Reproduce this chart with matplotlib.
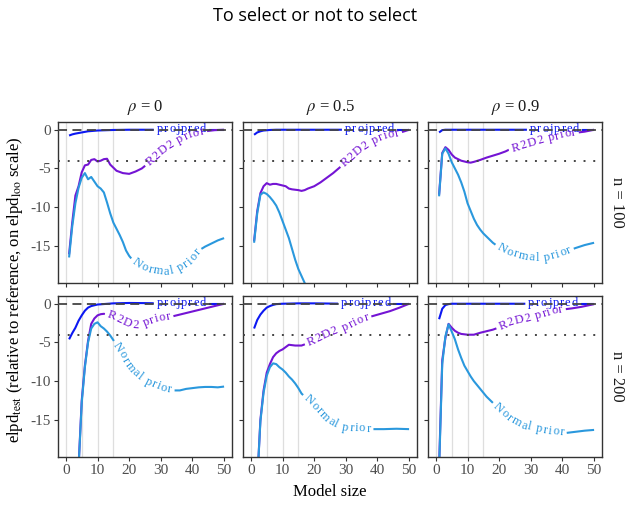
import numpy as np
import matplotlib
matplotlib.use("Agg")
import matplotlib.pyplot as plt
from matplotlib.font_manager import FontProperties

plt.rcParams["font.family"] = ["Liberation Serif", "DejaVu Serif"]
plt.rcParams["mathtext.fontset"] = "stix"
plt.rcParams["axes.unicode_minus"] = False

rhos = ["0", "0.5", "0.9"]
ns = ["100", "200"]
methods = ["projpred", "R2D2 prior", "Normal prior"]
colors = {"projpred": "#0c18f2", "R2D2 prior": "#7414d4", "Normal prior": "#2a98dd"}

# n = 100, rho = 0
proj_100_0_x = [1, 2, 3, 5, 7, 10, 15, 20, 30, 40, 50]
proj_100_0_y = [-0.75, -0.6, -0.5, -0.35, -0.2, -0.1, -0.03, 0, 0, 0, 0]
r2d2_100_0_x = [1, 2, 3, 4, 5, 6, 7, 8, 9, 10, 11, 12, 13, 14, 15, 16, 18, 20, 22, 24, 27, 30, 33, 36, 39, 42, 44, 47, 50]
r2d2_100_0_y = [-16.1, -12.0, -8.5, -7.3, -5.5, -4.6, -4.5, -3.9, -3.8, -4.1, -4.0, -3.8, -3.75, -4.5, -4.9, -5.3, -5.6, -5.7, -5.4, -5.0,
                -4.0, -2.9, -2.0, -1.3, -0.7, -0.35, -0.2, -0.05, 0]
norm_100_0_x = [1, 2, 3, 4, 5, 6, 7, 8, 9, 10, 11, 12, 13, 14, 15, 16, 17, 18, 19, 20, 21, 23, 26, 29, 32, 35, 38, 40, 42, 44, 46, 48, 50]
norm_100_0_y = [-16.5, -12.5, -9.5, -7.5, -6.2, -5.6, -6.4, -6.1, -6.7, -7.3, -7.6, -8.1, -9.4, -10.8, -12.0, -12.8, -13.6, -14.5,
                -15.6, -16.3, -16.8, -17.5, -18.0, -18.3, -18.4, -18.1, -17.4, -16.8, -15.6, -15.1, -14.7, -14.3, -14.0]

# n = 100, rho = 0.5
proj_100_5_x = [1, 2, 3, 4, 6, 8, 50]
proj_100_5_y = [-0.65, -0.35, -0.2, -0.1, -0.03, 0, 0]
r2d2_100_5_x = [1, 2, 3, 4, 5, 6, 7, 8, 9, 10, 11, 12, 13, 14, 15, 16, 17, 18, 20, 22, 24, 26, 28, 31, 34, 37, 40, 43, 45, 47, 50]
r2d2_100_5_y = [-14.4, -10.5, -8.2, -7.3, -6.9, -7.1, -7.0, -7.0, -7.1, -7.2, -7.3, -7.6, -7.7, -7.75, -7.8, -7.9, -7.8, -7.6,
                -7.3, -6.8, -6.2, -5.6, -4.9, -3.8, -2.7, -1.8, -1.2, -0.75, -0.6, -0.4, 0]
norm_100_5_x = [1, 2, 3, 4, 5, 6, 7, 8, 9, 10, 11, 12, 13, 14, 15, 16, 17, 20, 25, 30, 40, 50]
norm_100_5_y = [-14.6, -10.8, -8.4, -8.1, -8.3, -8.7, -9.2, -9.8, -10.7, -11.8, -12.9, -14.0, -15.4, -16.8, -18.0, -18.9, -19.8,
                -23.0, -27.0, -29.0, -30.0, -30.0]

# n = 100, rho = 0.9
proj_100_9_x = [1, 2, 3, 50]
proj_100_9_y = [-0.35, -0.05, 0, 0]
r2d2_100_9_x = [1, 2, 3, 4, 5, 6, 7, 8, 10, 11, 12, 14, 16, 18, 20, 22, 23, 26, 30, 34, 38, 42, 45, 47, 50]
r2d2_100_9_y = [-8.4, -3.0, -2.25, -2.6, -3.2, -3.6, -3.8, -4.0, -4.2, -4.25, -4.15, -3.9, -3.6, -3.35, -3.1, -2.8, -2.6, -2.3,
                -1.8, -1.3, -0.9, -0.5, -0.35, -0.25, 0]
norm_100_9_x = [1, 2, 3, 4, 5, 6, 7, 8, 9, 10, 11, 12, 13, 14, 15, 16, 17, 18, 20, 23, 26, 29, 32, 35, 38, 41, 44, 47, 50]
norm_100_9_y = [-8.6, -3.1, -2.4, -3.1, -4.2, -5.0, -5.8, -6.8, -8.0, -9.5, -10.5, -11.5, -12.3, -12.9, -13.4, -13.8, -14.2,
                -14.6, -15.2, -15.8, -16.2, -16.5, -16.6, -16.5, -16.2, -15.8, -15.3, -14.9, -14.6]

# n = 200, rho = 0
proj_200_0_x = [1, 2, 3, 4, 5, 6, 7, 8, 10, 15, 20, 25, 30, 40, 50]
proj_200_0_y = [-4.6, -3.8, -3.1, -2.2, -1.5, -0.9, -0.5, -0.3, -0.1, 0.05, 0.1, 0.08, 0.05, 0, 0]
r2d2_200_0_x = [1, 2, 3, 4, 5, 6, 7, 8, 9, 10, 11, 12, 14, 16, 18, 20, 22, 24, 26, 28, 30, 33, 36, 39, 42, 45, 48, 50]
r2d2_200_0_y = [-40, -32, -26, -21, -12.5, -8.0, -4.8, -2.6, -1.9, -1.5, -1.35, -1.3, -1.5, -1.85, -2.2, -2.6, -2.85, -2.7,
                -2.35, -2.05, -1.85, -1.7, -1.4, -1.1, -0.8, -0.5, -0.2, 0]
norm_200_0_x = [1, 2, 3, 4, 5, 6, 7, 8, 9, 10, 11, 12, 13, 14, 15, 16, 17, 18, 19, 20, 21, 22, 23, 24, 26, 28, 30, 32, 34, 36,
                38, 40, 42, 44, 46, 48, 50]
norm_200_0_y = [-40, -32, -26, -21.2, -12.8, -8.2, -5.0, -3.2, -2.6, -2.4, -2.9, -3.2, -3.6, -4.1, -4.7, -5.4, -6.0, -6.7, -7.5,
                -8.1, -8.6, -9.0, -9.35, -9.65, -10.1, -10.5, -10.85, -11.1, -11.2, -11.2, -11.0, -10.9, -10.8, -10.75, -10.75,
                -10.8, -10.7]

# n = 200, rho = 0.5
proj_200_5_x = [1, 2, 3, 4, 5, 6, 7, 8, 10, 15, 20, 30, 50]
proj_200_5_y = [-3.2, -2.1, -1.4, -0.9, -0.5, -0.3, -0.15, -0.05, 0, 0.05, 0.05, 0, 0]
r2d2_200_5_x = [1, 2, 3, 4, 5, 6, 7, 8, 9, 10, 11, 12, 13, 14, 15, 16, 17, 18, 20, 22, 24, 26, 28, 30, 32, 34, 36, 38, 41, 44,
                47, 50]
r2d2_200_5_y = [-40, -23, -15.0, -11.2, -8.9, -7.8, -6.9, -6.4, -6.1, -5.9, -5.6, -5.3, -5.35, -5.4, -5.4, -5.4, -5.25, -5.1,
                -4.8, -4.4, -4.0, -3.6, -3.3, -3.0, -2.6, -2.2, -1.85, -1.65, -1.3, -0.95, -0.5, 0]
norm_200_5_x = [1, 2, 3, 4, 5, 6, 7, 8, 9, 10, 11, 12, 13, 14, 15, 16, 17, 18, 20, 22, 24, 26, 28, 30, 32, 35, 38, 42, 46, 50]
norm_200_5_y = [-40, -23, -15.2, -11.5, -9.3, -8.2, -7.7, -7.8, -8.2, -8.5, -8.9, -9.4, -9.8, -10.3, -10.9, -11.6, -12.0, -12.3,
                -13.1, -14.0, -14.9, -15.4, -15.8, -16.0, -16.1, -16.15, -16.2, -16.2, -16.15, -16.2]

# n = 200, rho = 0.9
proj_200_9_x = [1, 2, 3, 4, 5, 50]
proj_200_9_y = [-2.0, -0.65, -0.17, -0.05, 0, 0]
r2d2_200_9_x = [1, 2, 3, 4, 5, 6, 7, 8, 10, 12, 14, 16, 18, 19, 20, 22, 25, 28, 31, 34, 37, 40, 43, 46, 50]
r2d2_200_9_y = [-21, -7.3, -4.4, -2.6, -3.1, -3.5, -3.75, -3.9, -4.0, -4.0, -3.75, -3.55, -3.35, -3.2, -3.05, -2.7, -2.3, -2.0,
                -1.7, -1.35, -0.95, -0.75, -0.6, -0.4, -0.05]
norm_200_9_x = [1, 2, 3, 4, 5, 6, 7, 8, 9, 10, 11, 12, 13, 14, 15, 16, 17, 18, 20, 22, 24, 26, 28, 30, 32, 35, 38, 41, 44, 47, 50]
norm_200_9_y = [-21.5, -7.8, -4.2, -2.65, -3.6, -4.6, -5.9, -7.0, -8.0, -8.7, -9.4, -10.0, -10.5, -11.0, -11.5, -12.0, -12.4,
                -12.8, -13.6, -14.3, -15.0, -15.5, -15.8, -16.0, -16.2, -16.4, -16.55, -16.7, -16.55, -16.4, -16.3]

series = {
    ("100", "0"): [(proj_100_0_x, proj_100_0_y), (r2d2_100_0_x, r2d2_100_0_y), (norm_100_0_x, norm_100_0_y)],
    ("100", "0.5"): [(proj_100_5_x, proj_100_5_y), (r2d2_100_5_x, r2d2_100_5_y), (norm_100_5_x, norm_100_5_y)],
    ("100", "0.9"): [(proj_100_9_x, proj_100_9_y), (r2d2_100_9_x, r2d2_100_9_y), (norm_100_9_x, norm_100_9_y)],
    ("200", "0"): [(proj_200_0_x, proj_200_0_y), (r2d2_200_0_x, r2d2_200_0_y), (norm_200_0_x, norm_200_0_y)],
    ("200", "0.5"): [(proj_200_5_x, proj_200_5_y), (r2d2_200_5_x, r2d2_200_5_y), (norm_200_5_x, norm_200_5_y)],
    ("200", "0.9"): [(proj_200_9_x, proj_200_9_y), (r2d2_200_9_x, r2d2_200_9_y), (norm_200_9_x, norm_200_9_y)],
}

# where along x each label sits on its line (text placement only)
label_at = {
    ("100", "0"): [36.5, 34.0, 32.5],
    ("100", "0.5"): [37.5, 37.0, 31.0],
    ("100", "0.9"): [37.5, 34.0, 31.0],
    ("200", "0"): [36.5, 23.0, 22.5],
    ("200", "0.5"): [36.3, 27.5, 26.0],
    ("200", "0.9"): [37.0, 30.0, 28.5],
}

LABEL_FS = 9
TRACK = 1.0  # extra px between letters
label_font = FontProperties(family="Liberation Serif", size=LABEL_FS)


def line_with_label(ax, xs, ys, label, xc, color):
    """draw a line with its label written along it (like geomtextpath)"""
    r = ax.figure.canvas.get_renderer()
    xs = np.asarray(xs, float)
    ys = np.asarray(ys, float)
    pts = ax.transData.transform(np.column_stack([xs, ys]))
    s = np.concatenate([[0], np.cumsum(np.hypot(*np.diff(pts, axis=0).T))])

    def w(t):
        return r.get_text_width_height_descent(t, label_font, ismath=False)[0]

    total = w(label) + TRACK * (len(label) - 1)
    s0 = np.interp(xc, xs, s) - total / 2
    em = LABEL_FS * ax.figure.dpi / 72
    off = 0.22 * em
    for i, ch in enumerate(label):
        if ch == " ":
            continue
        si = s0 + w(label[:i + 1]) - w(ch) / 2 + TRACK * i
        px = np.interp(si, s, pts[:, 0])
        py = np.interp(si, s, pts[:, 1])
        dx = np.interp(si + 5, s, pts[:, 0]) - np.interp(si - 5, s, pts[:, 0])
        dy = np.interp(si + 5, s, pts[:, 1]) - np.interp(si - 5, s, pts[:, 1])
        ang = np.arctan2(dy, dx)
        bx = px + np.sin(ang) * off
        by = py - np.cos(ang) * off
        dxy = ax.transData.inverted().transform((bx, by))
        ax.text(dxy[0], dxy[1], ch, rotation=np.degrees(ang), rotation_mode="anchor",
                ha="center", va="baseline", color=color, fontproperties=label_font,
                clip_on=True, zorder=2.5)

    pad = 3
    a, b = s0 - pad, s0 + total + pad
    m1 = s < a
    m2 = s > b
    x1 = np.append(xs[m1], np.interp(a, s, xs))
    y1 = np.append(ys[m1], np.interp(a, s, ys))
    x2 = np.insert(xs[m2], 0, np.interp(b, s, xs))
    y2 = np.insert(ys[m2], 0, np.interp(b, s, ys))
    for xx, yy in [(x1, y1), (x2, y2)]:
        ax.plot(xx, yy, color=color, lw=1.5, solid_capstyle="butt", zorder=2)


fig = plt.figure(figsize=(6.3, 5.05), dpi=100)
W, H = 630, 505
lefts = [58, 243, 428]
tops = [122, 296]
pw, ph = 174, 161

for i, n in enumerate(ns):
    for j, rho in enumerate(rhos):
        ax = fig.add_axes([lefts[j] / W, 1 - (tops[i] + ph) / H, pw / W, ph / H])
        ax.set_xlim(-2.5, 52.5)
        ax.set_ylim(-19.8, 1.0)
        for v in [0, 5, 10, 15]:
            ax.axvline(v, color="#dedede", lw=0.9, zorder=1)
        for k, m in enumerate(methods):
            xs, ys = series[(n, rho)][k]
            line_with_label(ax, xs, ys, m, label_at[(n, rho)][k], colors[m])
        ax.axhline(0, color="#444444", lw=1.3, ls=(0, (5, 3)), zorder=3)
        ax.axhline(-4, color="#444444", lw=1.4, ls=(0, (1, 4)), zorder=3)

        ax.set_xticks([0, 10, 20, 30, 40, 50])
        ax.set_yticks([0, -5, -10, -15])
        ax.tick_params(length=3, width=0.8, color="#333333", labelcolor="#4d4d4d", labelsize=11, pad=2)
        if j > 0:
            ax.tick_params(labelleft=False)
        if i == 0:
            ax.tick_params(labelbottom=False)
        for sp in ax.spines.values():
            sp.set_color("#333333")
            sp.set_linewidth(1.0)
        if i == 0:
            ax.text(0.5, 1.087, r"$\rho$ = " + rho, transform=ax.transAxes, ha="center", va="center",
                    fontsize=12, color="#1a1a1a")
        if j == 2:
            ax.text(1 + 15 / pw, 0.5, "n = " + n, transform=ax.transAxes, ha="center", va="center",
                    rotation=270, fontsize=12, color="#1a1a1a")

fig.text(15 / W, 1 - 290 / H, r"elpd$_{\mathrm{test}}$ (relative to reference, on elpd$_{\mathrm{loo}}$ scale)",
         rotation=90, ha="center", va="center", fontsize=12)
fig.text(330 / W, 1 - 492 / H, "Model size", ha="center", va="center", fontsize=12)
fig.text(315 / W, 1 - 16 / H, "To select or not to select", ha="center", va="center",
         fontsize=13, family="Open Sans")

fig.savefig("out.png", dpi=100)
